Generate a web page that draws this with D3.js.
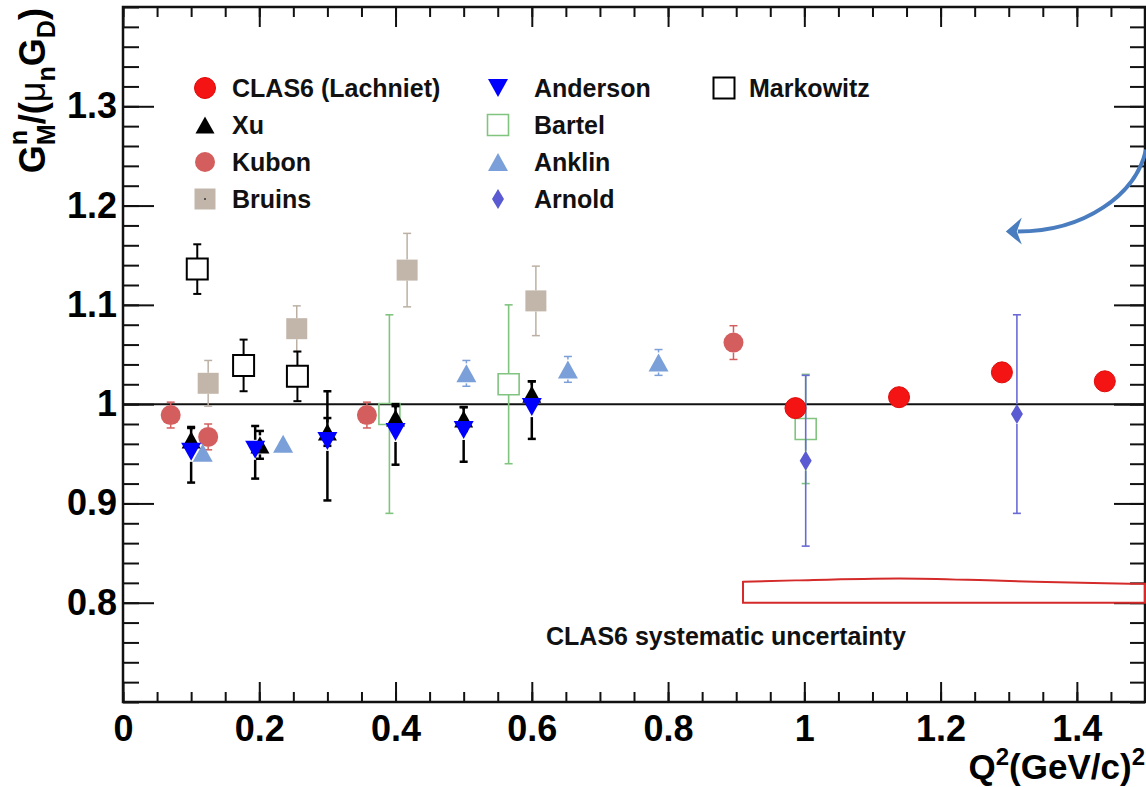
<!DOCTYPE html>
<html>
<head>
<meta charset="utf-8">
<script src="https://cdn.jsdelivr.net/npm/d3@7"></script>
<style>
  body { margin: 0; background: #fff; }
  svg { display: block; font-family: "Liberation Sans", Arial, sans-serif; font-weight: bold; }
</style>
</head>
<body>
<svg id="chart" width="1146" height="787"></svg>
<script>
// values: Q^2 (GeV/c)^2, G_M^n/(mu_n G_D), error down / up
const clasQ2 = [0.987, 1.139, 1.290, 1.441];
const clasGM = [0.996, 1.007, 1.032, 1.023];
const clasErr = [0.003, 0.003, 0.003, 0.003];

const xuQ2 = [0.100, 0.201, 0.300, 0.400, 0.500, 0.600];
const xuGM = [0.964, 0.959, 0.972, 0.986, 0.985, 1.010];
const xuErr = [0.012, 0.014, 0.014, 0.012, 0.012, 0.013];

const kubonQ2 = [0.070, 0.125, 0.358, 0.896];
const kubonGM = [0.989, 0.967, 0.989, 1.062];
const kubonErr = [0.013, 0.013, 0.013, 0.017];

const bruinsQ2 = [0.125, 0.255, 0.417, 0.606];
const bruinsGM = [1.021, 1.076, 1.135, 1.104];
const bruinsErr = [0.023, 0.023, 0.037, 0.035];

const andersonQ2 = [0.100, 0.194, 0.300, 0.400, 0.500, 0.600];
const andersonGM = [0.952, 0.954, 0.963, 0.972, 0.974, 0.997];
const andersonErrLo = [0.031, 0.029, 0.060, 0.033, 0.032, 0.032];
const andersonErrHi = [0.025, 0.024, 0.050, 0.028, 0.023, 0.026];

const bartelQ2 = [0.391, 0.566, 1.002];
const bartelGM = [0.990, 1.020, 0.975];
const bartelErr = [0.100, 0.080, 0.055];

const anklinQ2 = [0.117, 0.235, 0.504, 0.653, 0.786];
const anklinGM = [0.951, 0.960, 1.031, 1.035, 1.042];
const anklinErr = [0.010, 0.008, 0.013, 0.013, 0.013];

const arnoldQ2 = [1.002, 1.312];
const arnoldGM = [0.943, 0.990];
const arnoldErr = [0.086, 0.100];

const markowitzQ2 = [0.109, 0.177, 0.256];
const markowitzGM = [1.136, 1.039, 1.028];
const markowitzErr = [0.025, 0.026, 0.025];

// CLAS6 systematic band, drawn on top of 0.8
const sysQ2 = [0.910, 0.987, 1.139, 1.290, 1.441, 1.500];
const sysErr = [0.021, 0.0225, 0.0245, 0.022, 0.0195, 0.019];
const sysBase = 0.8;

const xTicks = [0, 0.2, 0.4, 0.6, 0.8, 1, 1.2, 1.4];
const yTicks = [0.8, 0.9, 1, 1.1, 1.2, 1.3];

// annotation arrow (start, control 1, control 2, end) in data units
const arrowPts = [[1.5015, 1.2563], [1.4868, 1.2111], [1.4117, 1.1738], [1.3133, 1.1738]];
const arrowTip = [1.2957, 1.1738];

const svg = d3.select('#chart');
const x = d3.scaleLinear().domain([0, 1.5]).range([123, 1145]);
const y = d3.scaleLinear().domain([0.7, 1.4]).range([702, 7]);

// custom markers, centred on their bounding box
const triUp = { draw(ctx, r) { ctx.moveTo(0, -r * 0.9); ctx.lineTo(r, r * 0.9); ctx.lineTo(-r, r * 0.9); ctx.closePath(); } };
const triDown = { draw(ctx, r) { ctx.moveTo(0, r * 0.9); ctx.lineTo(r, -r * 0.9); ctx.lineTo(-r, -r * 0.9); ctx.closePath(); } };
const square = { draw(ctx, r) { ctx.rect(-r, -r, 2 * r, 2 * r); } };
const diamond = { draw(ctx, r) { ctx.moveTo(0, -r); ctx.lineTo(r * 0.6, 0); ctx.lineTo(0, r); ctx.lineTo(-r * 0.6, 0); ctx.closePath(); } };
const circle = { draw(ctx, r) { ctx.moveTo(r, 0); ctx.arc(0, 0, r, 0, 2 * Math.PI); } };

function pack(q2, gm, lo, hi) {
    return q2.map((q, i) => ({ q: q, v: gm[i], lo: lo[i], hi: (hi || lo)[i] }));
}

const series = [
    { name: 'Bruins',   data: pack(bruinsQ2, bruinsGM, bruinsErr),   type: square,  r: 10.5, fill: '#c2b6aa', stroke: 'none', bar: '#bcb0a4', bw: 1.5 },
    { name: 'Markowitz',data: pack(markowitzQ2, markowitzGM, markowitzErr), type: square, r: 10.5, fill: 'none', stroke: '#000', sw: 2, bar: '#000', bw: 2 },
    { name: 'Bartel',   data: pack(bartelQ2, bartelGM, bartelErr),   type: square,  r: 10.5, fill: 'none', stroke: '#80c480', sw: 1.6, bar: '#80c480', bw: 1.6 },
    { name: 'Arnold',   data: pack(arnoldQ2, arnoldGM, arnoldErr),   type: diamond, r: 10,   fill: '#5a5ad2', stroke: 'none', bar: '#6a6ad6', bw: 1.6 },
    { name: 'Kubon',    data: pack(kubonQ2, kubonGM, kubonErr),      type: circle,  r: 10,   fill: '#d45e5e', stroke: 'none', bar: '#d45e5e', bw: 1.5 },
    { name: 'Anklin',   data: pack(anklinQ2, anklinGM, anklinErr),   type: triUp,   r: 10,   fill: '#7b9fd8', stroke: 'none', bar: '#7b9fd8', bw: 1.5 },
    { name: 'Xu',       data: pack(xuQ2, xuGM, xuErr),               type: triUp,   r: 9.5,  fill: '#000', stroke: 'none', bar: '#000', bw: 2.5 },
    { name: 'Anderson', data: pack(andersonQ2, andersonGM, andersonErrLo, andersonErrHi), type: triDown, r: 10, fill: '#0000ff', stroke: 'none', bar: '#000', bw: 2.5 },
    { name: 'CLAS6 (Lachniet)', data: pack(clasQ2, clasGM, clasErr), type: circle, r: 10.5, fill: '#f41414', stroke: '#e00808', sw: 1, bar: '#e00808', bw: 1 },
];

// legend layout: column, row
const legendOrder = [
    ['CLAS6 (Lachniet)', 0, 0], ['Xu', 0, 1], ['Kubon', 0, 2], ['Bruins', 0, 3],
    ['Anderson', 1, 0], ['Bartel', 1, 1], ['Anklin', 1, 2], ['Arnold', 1, 3],
    ['Markowitz', 2, 0]
];

draw_axes();
draw_band();
svg.append('line')
    .attr('x1', x(0)).attr('x2', x(1.5))
    .attr('y1', y(1)).attr('y2', y(1))
    .attr('stroke', '#111').attr('stroke-width', 2);
series.forEach(draw_series);
draw_legend();
draw_arrow();
draw_titles();

function draw_axes(){
    const xMinor = d3.range(0, 1.5001, 0.05);
    const yMinor = d3.range(0.7, 1.4001, 0.02);
    const fmt = d3.format('~g');

    const axes = [
        { gen: d3.axisBottom, scale: x, t: 'translate(0,702)', minor: xMinor, major: xTicks, big: 20, small: 10, labels: true },
        { gen: d3.axisTop,    scale: x, t: 'translate(0,7)',   minor: xMinor, major: xTicks, big: 20, small: 10, labels: false },
        { gen: d3.axisLeft,   scale: y, t: 'translate(123,0)', minor: yMinor, major: yTicks, big: 31, small: 16, labels: true },
        { gen: d3.axisRight,  scale: y, t: 'translate(1145,0)',minor: yMinor, major: yTicks, big: 31, small: 15, labels: false },
    ];
    axes.forEach(a => {
        svg.append('g').attr('transform', a.t)
            .call(a.gen(a.scale).tickValues(a.minor).tickSize(-a.small).tickFormat(''))
            .call(g => g.select('.domain').remove());
        const g = svg.append('g').attr('transform', a.t)
            .call(a.gen(a.scale).tickValues(a.major).tickSize(-a.big)
                .tickPadding(a.gen === d3.axisLeft ? 6 : 13)
                .tickFormat(a.labels ? fmt : ''))
            .call(g => g.select('.domain').remove());
        g.attr('font-family', null).attr('font-size', null);
        g.selectAll('text').attr('font-size', 36).attr('fill', '#000');
    });
    svg.selectAll('.tick line').attr('stroke', '#111').attr('stroke-width', 2);

    svg.append('rect')
        .attr('x', x(0)).attr('y', y(1.4))
        .attr('width', x(1.5) - x(0)).attr('height', y(0.7) - y(1.4))
        .attr('fill', 'none').attr('stroke', '#111').attr('stroke-width', 2.5);
}

function draw_band(){
    const pts = sysQ2.map((q, i) => [x(q), y(sysBase + sysErr[i])]);
    const top = d3.line().curve(d3.curveMonotoneX)(pts);
    const path = top + 'L' + x(sysQ2[sysQ2.length - 1]) + ',' + y(sysBase)
        + 'L' + x(sysQ2[0]) + ',' + y(sysBase) + 'Z';
    svg.append('path').attr('d', path)
        .attr('fill', 'none').attr('stroke', '#d42a2a').attr('stroke-width', 2);
    svg.append('text')
        .attr('x', 546).attr('y', 645)
        .attr('font-size', 25).attr('fill', '#111')
        .text('CLAS6 systematic uncertainty');
}

function draw_series(s){
    const g = svg.append('g');
    const cap = 4;
    s.data.forEach(d => {
        const cx = x(d.q), cy = y(d.v);
        const top = y(d.v + d.hi), bot = y(d.v - d.lo);
        const gap = s.r;
        const segs = [];
        if (cy - gap > top) segs.push([top, cy - gap]);
        if (cy + gap < bot) segs.push([cy + gap, bot]);
        segs.forEach(sg => {
            g.append('line').attr('x1', cx).attr('x2', cx).attr('y1', sg[0]).attr('y2', sg[1])
                .attr('stroke', s.bar).attr('stroke-width', s.bw);
        });
        [top, bot].forEach(yy => {
            if (Math.abs(yy - cy) > gap) {
                g.append('line').attr('x1', cx - cap).attr('x2', cx + cap).attr('y1', yy).attr('y2', yy)
                    .attr('stroke', s.bar).attr('stroke-width', s.bw);
            }
        });
    });
    g.selectAll('path.m').data(s.data).join('path')
        .attr('class', 'm')
        .attr('transform', d => 'translate(' + x(d.q) + ',' + y(d.v) + ')')
        .attr('d', d3.symbol().type(s.type).size(s.r))
        .attr('fill', s.fill)
        .attr('stroke', s.stroke)
        .attr('stroke-width', s.sw || 0);
}

function draw_legend(){
    const markX = [205, 498, 724];
    const textX = [232, 534, 749];
    const g = svg.append('g');
    legendOrder.forEach(([name, col, row]) => {
        const s = series.find(d => d.name === name);
        const base = 97 + row * 37;
        g.append('path')
            .attr('transform', 'translate(' + markX[col] + ',' + (base - 9) + ')')
            .attr('d', d3.symbol().type(s.type).size(s.r))
            .attr('fill', s.fill).attr('stroke', s.stroke).attr('stroke-width', s.sw || 0);
        if (name === 'Bruins') {
            g.append('circle').attr('cx', markX[col]).attr('cy', base - 9).attr('r', 1).attr('fill', '#333');
        }
        g.append('text').attr('x', textX[col]).attr('y', base)
            .attr('font-size', 25).attr('fill', '#111').text(name);
    });
}

function draw_arrow(){
    const p = arrowPts.map(d => [x(d[0]), y(d[1])]);
    svg.append('path')
        .attr('d', 'M' + p[0] + 'C' + p[1] + ' ' + p[2] + ' ' + p[3])
        .attr('fill', 'none').attr('stroke', '#4a7dbf').attr('stroke-width', 4);
    const tx = x(arrowTip[0]), ty = y(arrowTip[1]);
    svg.append('path')
        .attr('d', 'M' + tx + ',' + ty + 'L' + (tx + 16) + ',' + (ty - 14)
            + 'L' + (tx + 11) + ',' + ty + 'L' + (tx + 16) + ',' + (ty + 13) + 'Z')
        .attr('fill', '#4a7dbf');
}

function draw_titles(){
    // x title
    const xt = svg.append('text')
        .attr('x', 1145).attr('y', 779)
        .attr('text-anchor', 'end').attr('font-size', 35).attr('fill', '#000');
    xt.append('tspan').text('Q');
    xt.append('tspan').attr('dy', -14).attr('font-size', 24).text('2');
    xt.append('tspan').attr('dy', 14).text('(GeV/c)');
    xt.append('tspan').attr('dy', -14).attr('font-size', 24).text('2');

    // y title, laid out piece by piece then rotated
    const f = 36;
    const g = svg.append('g').attr('transform', 'translate(45,8) rotate(-90)');
    const parts = [
        { t: 'G', size: f, dy: 0 },
        { t: 'n', size: f * 0.7, dy: -0.5 * f, stack: true },
        { t: 'M', size: f * 0.7, dy: 0.28 * f },
        { t: '/(', size: f, dy: 0 },
        { t: 'μ', size: f, dy: 0, weight: 'normal' },
        { t: 'n', size: f * 0.7, dy: 0.28 * f },
        { t: ' G', size: f, dy: 0 },
        { t: 'D', size: f * 0.7, dy: 0.28 * f },
        { t: ')', size: f, dy: 0 },
    ];
    let pos = 0, stackW = 0;
    parts.forEach(pt => {
        const el = g.append('text').attr('x', pos).attr('y', pt.dy)
            .attr('font-size', pt.size).attr('fill', '#000')
            .attr('font-weight', pt.weight || 'bold').text(pt.t);
        const w = el.node().getComputedTextLength();
        if (pt.stack) { stackW = w; }
        else { pos += Math.max(w, stackW); stackW = 0; }
    });
    g.selectAll('text').attr('x', function(){ return +d3.select(this).attr('x') - pos; });
}
</script>
</body>
</html>
